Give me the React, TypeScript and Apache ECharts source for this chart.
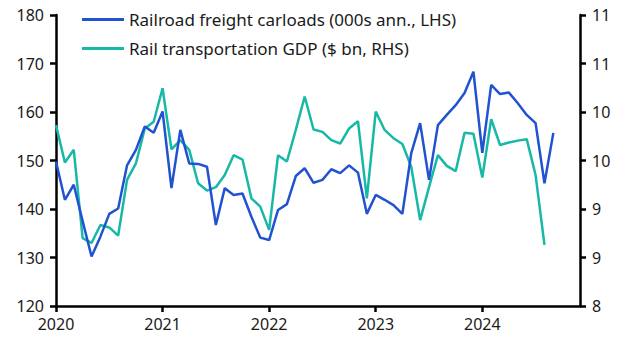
import React, { useEffect, useRef } from "react";
import * as echarts from "echarts";

const years = [2020, 2021, 2022, 2023, 2024];
const months = years.flatMap((y) =>
  Array.from({ length: 12 }, (_, m) => `${y}-${String(m + 1).padStart(2, "0")}`)
);

const carloads = [
  149.8, 141.9, 145.0, 137.5, 130.2, 134.3, 139.0, 140.1, 149.0, 152.2, 157.0, 155.7,
  160.1, 144.3, 156.3, 149.4, 149.3, 148.7, 136.7, 144.3, 142.9, 143.2, 138.4, 134.1,
  133.6, 139.8, 141.0, 146.8, 148.4, 145.4, 146.0, 148.2, 147.4, 149.0, 147.5, 139.0,
  142.9, 141.9, 140.8, 139.0, 151.5, 157.7, 146.0, 157.3, 159.4, 161.4, 163.9, 168.3,
  151.6, 165.6, 163.7, 164.0, 161.8, 159.4, 157.7, 145.3, 155.7,
];

const railGdp = [
  9.865, 9.48, 9.61, 8.7, 8.65, 8.835, 8.81, 8.725, 9.3, 9.47, 9.83, 9.9,
  10.245, 9.615, 9.71, 9.61, 9.265, 9.19, 9.225, 9.35, 9.555, 9.51, 9.11, 9.025,
  8.785, 9.555, 9.49, 9.815, 10.16, 9.82, 9.795, 9.71, 9.675, 9.83, 9.905, 9.11,
  10.005, 9.815, 9.73, 9.67, 9.435, 8.885, 9.225, 9.555, 9.445, 9.39, 9.785, 9.775,
  9.325, 9.925, 9.66, 9.685, 9.705, 9.72, 9.35, 8.63,
];

const leftTicks = { min: 120, max: 180, interval: 10 };
const rightTicks = { min: 8, max: 11, interval: 0.5 };

const BLUE = "#2152D1";
const TEAL = "#17B8A6";
const FONT = "Noto Sans";

export default function App() {
  const ref = useRef<HTMLDivElement>(null);
  useEffect(() => {
    if (!ref.current) return;
    const chart = echarts.init(ref.current, null, { renderer: "svg" });
    const axisLine = { show: true, lineStyle: { color: "#000", width: 2.5 } };
    const axisTick = { show: true, length: 6, lineStyle: { color: "#000", width: 2.5 } };
    const labelStyle = { color: "#1a1a1a", fontSize: 16, fontFamily: FONT };
    chart.setOption({
      animation: false,
      backgroundColor: "#fff",
      grid: { left: 56, right: 51, top: 15, bottom: 47, containLabel: false },
      legend: {
        orient: "vertical",
        left: 77,
        top: 6,
        itemWidth: 42,
        itemHeight: 3,
        itemGap: 12,
        icon: "rect",
        textStyle: { color: "#1a1a1a", fontSize: 17, fontFamily: FONT },
        data: [
          { name: "Railroad freight carloads (000s ann., LHS)", itemStyle: { color: BLUE } },
          { name: "Rail transportation GDP ($ bn, RHS)", itemStyle: { color: TEAL } },
        ],
      },
      xAxis: {
        type: "category",
        data: months,
        boundaryGap: false,
        axisLine,
        axisTick: { ...axisTick, interval: (i: number) => i % 12 === 0 },
        axisLabel: {
          ...labelStyle,
          margin: 10,
          interval: (i: number) => i % 12 === 0,
          formatter: (v: string) => v.slice(0, 4),
        },
        splitLine: { show: false },
      },
      yAxis: [
        {
          type: "value",
          ...leftTicks,
          position: "left",
          axisLine,
          axisTick,
          axisLabel: { ...labelStyle, margin: 12 },
          splitLine: { show: false },
        },
        {
          type: "value",
          ...rightTicks,
          position: "right",
          axisLine,
          axisTick,
          axisLabel: { ...labelStyle, margin: 12, formatter: (v: number) => String(Math.round(v)) },
          splitLine: { show: false },
        },
      ],
      series: [
        {
          name: "Railroad freight carloads (000s ann., LHS)",
          type: "line",
          yAxisIndex: 0,
          data: carloads,
          showSymbol: false,
          lineStyle: { color: BLUE, width: 2.5 },
          itemStyle: { color: BLUE },
          z: 3,
        },
        {
          name: "Rail transportation GDP ($ bn, RHS)",
          type: "line",
          yAxisIndex: 1,
          data: railGdp,
          showSymbol: false,
          lineStyle: { color: TEAL, width: 2.5 },
          itemStyle: { color: TEAL },
          z: 2,
        },
      ],
    });
    return () => chart.dispose();
  }, []);
  return <div ref={ref} style={{ width: 631, height: 353, position: "absolute", left: 0, top: 0 }} />;
}
